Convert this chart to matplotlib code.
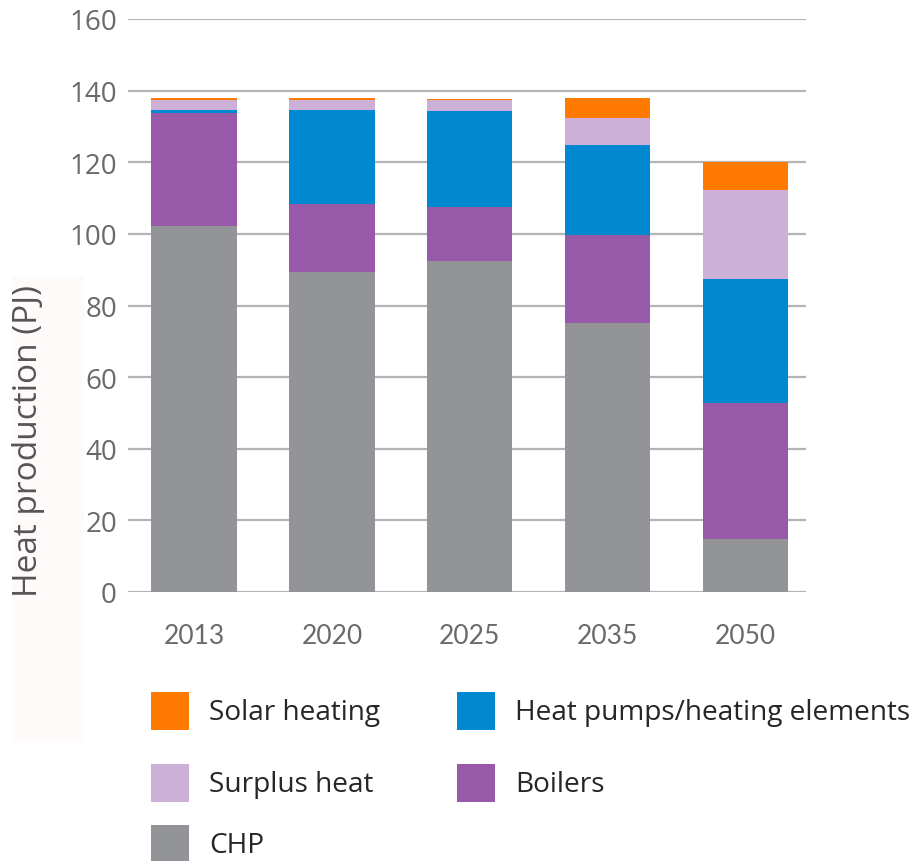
import matplotlib
matplotlib.use("Agg")
import matplotlib.pyplot as plt
from matplotlib.patches import Rectangle
import numpy as np

# Heat production by source (PJ)
years = ["2013", "2020", "2025", "2035", "2050"]
chp = [102.3, 89.3, 92.3, 75.2, 14.9]
boilers = [31.5, 19.1, 15.1, 24.5, 37.8]
heat_pumps = [0.8, 26.2, 26.9, 25.2, 34.7]
surplus_heat = [2.9, 2.9, 3.2, 7.5, 24.8]
solar_heating = [0.5, 0.5, 0.3, 5.6, 7.9]

y_ticks = [0, 20, 40, 60, 80, 100, 120, 140, 160]

series = [
    ("CHP", chp, "#929497"),
    ("Boilers", boilers, "#985aa8"),
    ("Heat pumps/heating elements", heat_pumps, "#0089d1"),
    ("Surplus heat", surplus_heat, "#cdb0d8"),
    ("Solar heating", solar_heating, "#ff7a00"),
]

W, H = 919, 862
fig = plt.figure(figsize=(W / 100, H / 100), dpi=100)
fig.patch.set_facecolor("white")

# faint tinted panel behind the axis title
fig.add_artist(Rectangle((12 / W, 1 - 744 / H), 72 / W, 466 / H,
                         transform=fig.transFigure, facecolor="#fffafa",
                         edgecolor="none", zorder=0))

ax = fig.add_axes([128 / W, 1 - 593 / H, 678 / W, 573 / H])
ax.set_facecolor("none")

x = np.arange(len(years))
bottom = np.zeros(len(years))
for name, vals, color in series:
    v = np.array(vals)
    ax.bar(x, v, width=0.62, bottom=bottom, color=color, edgecolor="none", zorder=3)
    bottom += v

ax.set_xlim(-0.48, 4.44)
ax.set_ylim(0, 160)
ax.set_yticks(y_ticks)
ax.yaxis.grid(True, color="#b4b4b4", linewidth=1.6, zorder=0)
ax.set_axisbelow(True)
for s in ax.spines.values():
    s.set_visible(False)

ax.set_xticks(x)
ax.set_xticklabels(years, fontfamily="Lato", fontsize=19, color="#6a6a6a")
ax.tick_params(axis="x", length=0, pad=22)
ax.set_yticklabels([str(t) for t in y_ticks], fontfamily="Open Sans",
                   fontsize=20, color="#6a6a6a")
ax.tick_params(axis="y", length=0, pad=8)

fig.text(29 / W, 1 - 441 / H, "Heat production (PJ)", rotation=90,
         ha="center", va="center", fontfamily="Open Sans", fontsize=24,
         color="#555555")

# legend: two columns, square swatches
legend_order = [
    ("Solar heating", "#ff7a00"),
    ("Surplus heat", "#cdb0d8"),
    ("CHP", "#929497"),
    ("Heat pumps/heating elements", "#0089d1"),
    ("Boilers", "#985aa8"),
]
col_x = [151, 457]
row_y = [693, 765, 826]
sq = 38
for i, (label, color) in enumerate(legend_order):
    col = 0 if i < 3 else 1
    row = i if i < 3 else i - 3
    x0 = col_x[col]
    y0 = row_y[row]
    fig.add_artist(Rectangle((x0 / W, 1 - (y0 + sq) / H), sq / W, sq / H,
                             transform=fig.transFigure, facecolor=color,
                             edgecolor="none"))
    fig.text((x0 + 58) / W, 1 - (y0 + sq / 2 + 1) / H, label,
             ha="left", va="center", fontfamily="Open Sans", fontsize=20.2,
             color="#262626")

fig.savefig("out.png", dpi=100, facecolor="white")
